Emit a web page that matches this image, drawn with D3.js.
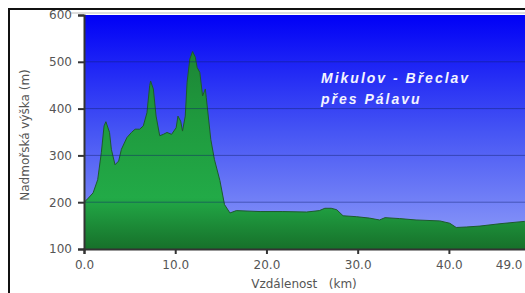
<!DOCTYPE html>
<html>
<head>
<meta charset="utf-8">
<script src="https://cdn.jsdelivr.net/npm/d3@7"></script>
<style>
  body { margin: 0; background: #fff; }
  svg { display: block; }
  .axis text { font-family: "DejaVu Sans", Verdana, sans-serif; font-size: 12px; fill: #555; }
  .axis path, .axis line { stroke: #333; }
</style>
</head>
<body>
<div id="graph"></div>
<script>
// profile: distance (km) and elevation (m)
var distance = [0, 0.3, 1.0, 1.5, 1.9, 2.2, 2.4, 2.8, 3.0, 3.4, 3.8, 4.1, 4.7, 5.2, 5.6, 6.1, 6.5, 6.9, 7.2, 7.3, 7.6, 7.9, 8.3, 8.7, 9.1, 9.6, 10.1, 10.3, 10.6, 10.8, 11.1, 11.3, 11.6, 11.9, 12.2, 12.4, 12.7, 13.0, 13.3, 13.4, 13.9, 14.3, 14.9, 15.4, 16.0, 16.7, 19.3, 21.8, 24.4, 25.8, 26.4, 27.1, 27.7, 28.4, 29.9, 31.3, 32.4, 33.0, 34.6, 36.4, 39.0, 40.1, 40.8, 41.9, 43.4, 45.6, 48.3, 49.0];
var elevation = [200, 205, 220, 248, 306, 363, 372, 349, 313, 280, 288, 313, 338, 349, 356, 356, 363, 391, 449, 459, 442, 384, 342, 345, 349, 345, 359, 384, 373, 352, 384, 456, 506, 522, 510, 488, 477, 427, 442, 424, 334, 291, 246, 195, 177, 182, 180, 180, 179, 182, 187, 187, 184, 171, 169, 166, 162, 167, 165, 162, 160, 155, 146, 147, 149, 154, 159, 160];
var yTicks = [100, 200, 300, 400, 500, 600];
var xTicks = [0, 10, 20, 30, 40, 49];
var gridValues = [200, 300, 400, 500];
var title = ["Mikulov - Břeclav", "přes Pálavu"];

var margin = {top: 15, left: 84},
    width = 447, height = 234;

var svg = d3.select("#graph").append("svg")
  .attr("width", 525).attr("height", 293);

var defs = svg.append("defs");
var bg = defs.append("linearGradient").attr("id", "bg")
  .attr("x1", 0).attr("y1", 0).attr("x2", 0).attr("y2", 1);
bg.append("stop").attr("offset", 0).attr("stop-color", "#0000f6");
bg.append("stop").attr("offset", 0.5).attr("stop-color", "#4655f4");
bg.append("stop").attr("offset", 1).attr("stop-color", "#909ef8");

var gr = defs.append("linearGradient").attr("id", "gr")
  .attr("gradientUnits", "userSpaceOnUse")
  .attr("x1", 0).attr("y1", 0).attr("x2", 0).attr("y2", height);
gr.append("stop").attr("offset", 0).attr("stop-color", "#1b7a31");
gr.append("stop").attr("offset", 0.45).attr("stop-color", "#1f9a3e");
gr.append("stop").attr("offset", 0.78).attr("stop-color", "#22aa47");
gr.append("stop").attr("offset", 1).attr("stop-color", "#17702a");

// outer frame
svg.append("rect").attr("x", 9).attr("y", 9).attr("width", 530).attr("height", 300)
  .attr("fill", "none").attr("stroke", "#111").attr("stroke-width", 2);
svg.append("line").attr("x1", 70).attr("x2", 525).attr("y1", 13).attr("y2", 13)
  .attr("stroke", "#bbb").attr("stroke-width", 1);

var g = svg.append("g")
  .attr("transform", "translate(" + margin.left + "," + margin.top + ")");

var x = d3.scaleLinear().domain([0, 49]).range([0, width]);
var y = d3.scaleLinear().domain([100, 600]).range([height, 0]);

g.append("rect").attr("width", width).attr("height", height).attr("fill", "url(#bg)");

var data = distance.map(function(d, i){ return {km: d, m: elevation[i]}; });

g.append("path").datum(data)
  .attr("d", d3.area().x(function(d){ return x(d.km); }).y0(height).y1(function(d){ return y(d.m); }))
  .attr("fill", "url(#gr)");
g.append("path").datum(data)
  .attr("d", d3.line().x(function(d){ return x(d.km); }).y(function(d){ return y(d.m); }))
  .attr("fill", "none").attr("stroke", "#1d5a2c").attr("stroke-width", 1);

g.selectAll(".grid").data(gridValues).enter().append("line")
  .attr("class", "grid")
  .attr("x1", 0).attr("x2", width)
  .attr("y1", function(d){ return y(d); }).attr("y2", function(d){ return y(d); })
  .attr("stroke", "#10206a").attr("stroke-opacity", 0.45).attr("stroke-width", 1);

var yAxis = g.append("g").attr("class", "axis")
  .call(d3.axisLeft(y).tickValues(yTicks).tickSize(6).tickPadding(6).tickFormat(d3.format("d")));
yAxis.select(".domain").attr("stroke-width", 2);
yAxis.selectAll(".tick line").attr("stroke-width", 2);

var xAxis = g.append("g").attr("class", "axis")
  .attr("transform", "translate(0," + height + ")")
  .call(d3.axisBottom(x).tickValues(xTicks).tickSize(5).tickPadding(6).tickFormat(d3.format(".1f")));
xAxis.select(".domain").attr("stroke-width", 2);
xAxis.selectAll(".tick line").attr("stroke-width", 2);
// last label sits inside the visible frame
xAxis.selectAll(".tick").filter(function(d){ return d === 49; }).select("line").remove();
xAxis.selectAll(".tick text").filter(function(d){ return d === 49; })
  .attr("text-anchor", "end").attr("x", -9);

// title
svg.selectAll(".title").data(title).enter().append("text")
  .attr("class", "title")
  .attr("x", 321).attr("y", function(d, i){ return 83 + i * 21; })
  .attr("fill", "#f4f4ff")
  .style("font-family", "'Liberation Sans', Arial, sans-serif")
  .style("font-weight", "bold").style("font-style", "italic")
  .style("font-size", "14px").style("letter-spacing", "2px")
  .text(function(d){ return d; });

svg.append("text")
  .attr("transform", "translate(29,135) rotate(-90)")
  .attr("text-anchor", "middle")
  .style("font-family", "'DejaVu Sans', Verdana, sans-serif").style("font-size", "12px")
  .attr("fill", "#555")
  .text("Nadmořská výška (m)");

svg.append("text")
  .attr("x", 304).attr("y", 288)
  .attr("text-anchor", "middle")
  .style("font-family", "'DejaVu Sans', Verdana, sans-serif").style("font-size", "12px")
  .style("white-space", "pre")
  .attr("fill", "#555")
  .text("Vzdálenost   (km)");
</script>
</body>
</html>
